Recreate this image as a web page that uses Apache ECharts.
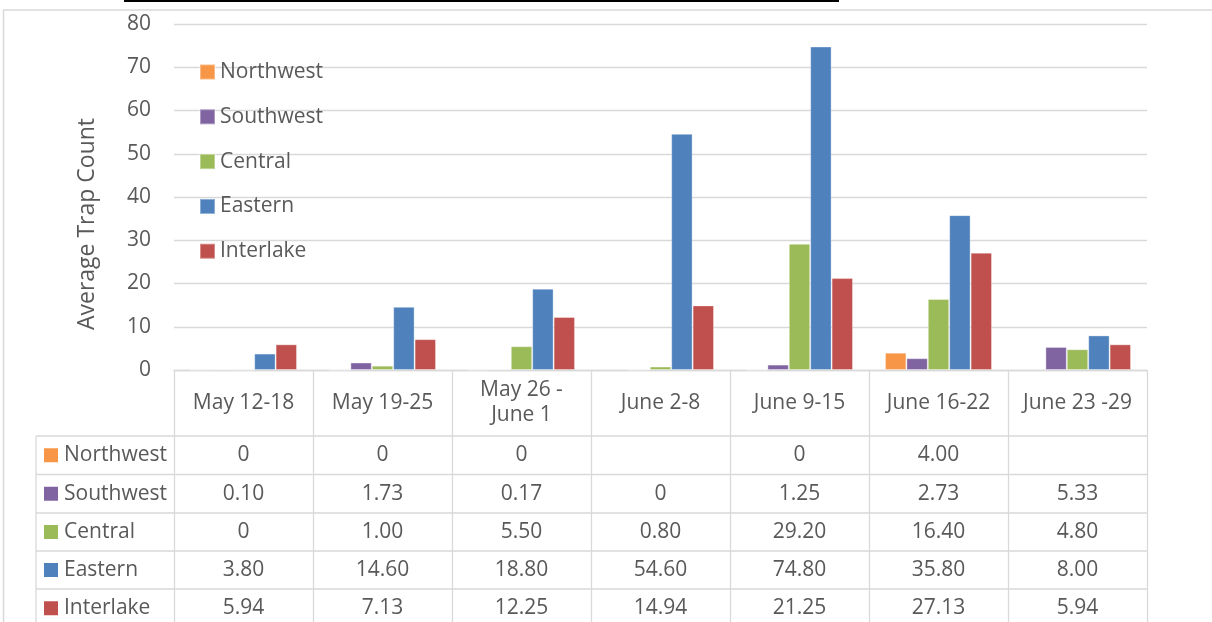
<!DOCTYPE html>
<html>
<head>
<meta charset="utf-8">
<script src="https://cdn.jsdelivr.net/npm/echarts@6/dist/echarts.min.js"></script>
<style>
html,body{margin:0;padding:0;background:#fff;}
#c{width:1212px;height:622px;}
</style>
</head>
<body>
<div id="c"></div>
<script>
const categories = ['May 12-18', 'May 19-25', 'May 26 -\nJune 1', 'June 2-8', 'June 9-15', 'June 16-22', 'June 23 -29'];
const seriesNames = ['Northwest', 'Southwest', 'Central', 'Eastern', 'Interlake'];
const northwest = [0, 0, 0, null, 0, 4.00, null];
const southwest = [0.10, 1.73, 0.17, 0, 1.25, 2.73, 5.33];
const central = [0, 1.00, 5.50, 0.80, 29.20, 16.40, 4.80];
const eastern = [3.80, 14.60, 18.80, 54.60, 74.80, 35.80, 8.00];
const interlake = [5.94, 7.13, 12.25, 14.94, 21.25, 27.13, 5.94];
const colors = ['#F79646', '#8064A2', '#9BBB59', '#4F81BD', '#C0504D'];
const yTitle = 'Average Trap Count';

const seriesData = [northwest, southwest, central, eastern, interlake];
const FONT = '"Open Sans", "Noto Sans", sans-serif';
const TXT = '#595959';
const GRID = '#D9D9D9';
const FS = 21;

const chart = echarts.init(document.getElementById('c'), null, {renderer: 'canvas'});

const option = {
  animation: false,
  color: colors,
  grid: {left: 174, right: 65, top: 24, bottom: 252, containLabel: false},
  legend: {
    orient: 'vertical', left: 199, top: 61.5, padding: 0,
    itemWidth: 15, itemHeight: 15, itemGap: 23.8,
    icon: 'rect',
    data: seriesNames,
    textStyle: {fontFamily: FONT, fontSize: FS, color: TXT, lineHeight: 21}
  },
  xAxis: {
    type: 'category', data: categories,
    axisLine: {show: true, lineStyle: {color: GRID, width: 1.3}},
    axisTick: {show: true, length: 252, lineStyle: {color: GRID, width: 1.3}, interval: 0},
    axisLabel: {
      interval: 0, margin: 33, verticalAlign: 'middle', align: 'center',
      fontFamily: FONT, fontSize: FS, color: TXT, lineHeight: 25
    }
  },
  yAxis: {
    type: 'value', min: 0, max: 80, interval: 10,
    axisLine: {show: false}, axisTick: {show: false},
    splitLine: {lineStyle: {color: GRID, width: 1.3}},
    axisLabel: {margin: 23, fontFamily: FONT, fontSize: FS, color: TXT}
  },
  series: seriesNames.map((n, i) => ({
    name: n, type: 'bar', data: seriesData[i],
    barGap: '0%', barCategoryGap: '23%',
    itemStyle: {color: colors[i], borderColor: 'rgba(255,255,255,0.35)', borderWidth: 1}
  }))
};
chart.setOption(option);

// Data table and decorations
const fmt = v => (v == null ? '' : (v === 0 ? '0' : v.toFixed(2)));
const plotRight = 1212 - 65;
const rowLines = [436, 474.5, 513, 551, 589, 627.5];
const tableLeft = 36;
const g = [];
g.push({type: 'line', shape: {x1: 3, y1: 10, x2: 1212, y2: 10}, style: {stroke: GRID, lineWidth: 1.5}});
g.push({type: 'line', shape: {x1: 3.5, y1: 10, x2: 3.5, y2: 622}, style: {stroke: GRID, lineWidth: 1.5}});
g.push({type: 'rect', shape: {x: 124, y: 0, width: 715, height: 2}, style: {fill: '#000'}});
g.push({type: 'text', x: 87, y: 224, rotation: Math.PI / 2,
  style: {text: yTitle, fontFamily: FONT, fontSize: 23, fill: TXT, align: 'center', verticalAlign: 'middle'}});
rowLines.slice(0, 5).forEach(y => {
  g.push({type: 'line', shape: {x1: tableLeft, y1: y, x2: plotRight, y2: y}, style: {stroke: GRID, lineWidth: 1.3}});
});
g.push({type: 'line', shape: {x1: tableLeft, y1: rowLines[0], x2: tableLeft, y2: 622}, style: {stroke: GRID, lineWidth: 1.3}});
seriesNames.forEach((n, r) => {
  const cy = (rowLines[r] + rowLines[r + 1]) / 2;
  g.push({type: 'rect', shape: {x: 44, y: cy - 7, width: 14, height: 14}, style: {fill: colors[r]}});
  g.push({type: 'text', x: 64, y: cy, style: {text: n, fontFamily: FONT, fontSize: FS, fill: TXT, align: 'left', verticalAlign: 'middle'}});
  seriesData[r].forEach((v, c) => {
    const cx = chart.convertToPixel({xAxisIndex: 0}, c);
    g.push({type: 'text', x: cx, y: cy, style: {text: fmt(v), fontFamily: FONT, fontSize: FS, fill: TXT, align: 'center', verticalAlign: 'middle'}});
  });
});
chart.setOption({graphic: {elements: g}});
</script>
</body>
</html>
